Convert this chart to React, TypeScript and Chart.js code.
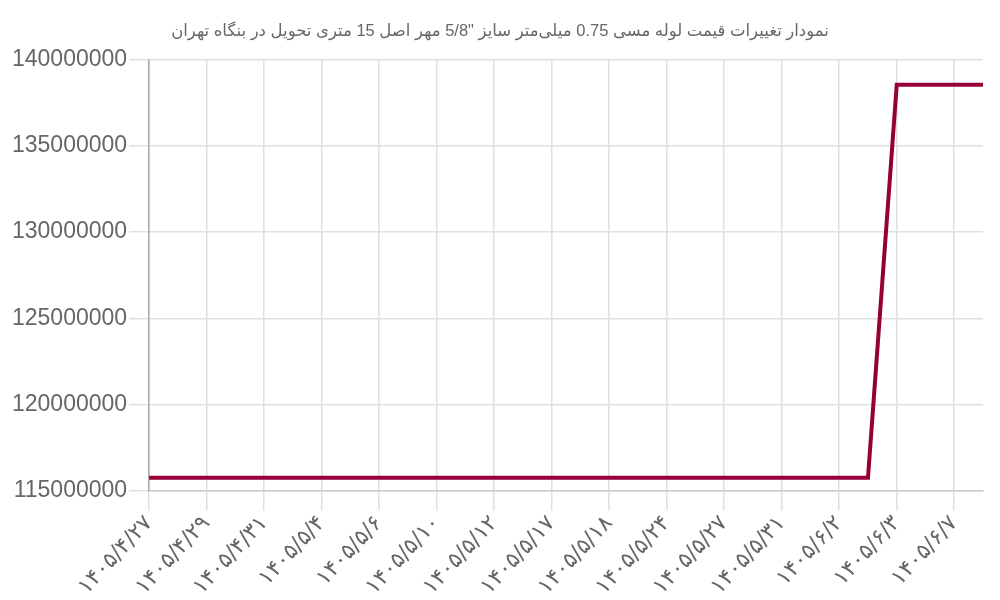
import { Chart, registerables } from 'chart.js';
import { useEffect, useRef } from 'react';

Chart.register(...registerables);

const TITLE = 'نمودار تغییرات قیمت لوله مسی 0.75 میلی‌متر سایز "5/8 مهر اصل 15 متری تحویل در بنگاه تهران';

const dates = [
  '۱۴۰۵/۴/۲۷', '۱۴۰۵/۴/۲۸', '۱۴۰۵/۴/۲۹', '۱۴۰۵/۴/۳۰', '۱۴۰۵/۴/۳۱',
  '۱۴۰۵/۵/۳', '۱۴۰۵/۵/۴', '۱۴۰۵/۵/۵', '۱۴۰۵/۵/۶', '۱۴۰۵/۵/۷',
  '۱۴۰۵/۵/۱۰', '۱۴۰۵/۵/۱۱', '۱۴۰۵/۵/۱۲', '۱۴۰۵/۵/۱۳', '۱۴۰۵/۵/۱۷',
  '۱۴۰۵/۵/۱۷', '۱۴۰۵/۵/۱۸', '۱۴۰۵/۵/۲۰', '۱۴۰۵/۵/۲۴', '۱۴۰۵/۵/۲۵',
  '۱۴۰۵/۵/۲۷', '۱۴۰۵/۵/۲۸', '۱۴۰۵/۵/۳۱', '۱۴۰۵/۶/۱', '۱۴۰۵/۶/۲',
  '۱۴۰۵/۶/۲', '۱۴۰۵/۶/۳', '۱۴۰۵/۶/۴', '۱۴۰۵/۶/۷', '۱۴۰۵/۶/۸',
];

const prices = [
  115750000, 115750000, 115750000, 115750000, 115750000,
  115750000, 115750000, 115750000, 115750000, 115750000,
  115750000, 115750000, 115750000, 115750000, 115750000,
  115750000, 115750000, 115750000, 115750000, 115750000,
  115750000, 115750000, 115750000, 115750000, 115750000,
  115750000, 138550000, 138550000, 138550000, 138550000,
];

const yMin = 115000000;
const yMax = 140000000;
const yStep = 5000000;

export default function App() {
  const chartRef = useRef<HTMLCanvasElement>(null);

  useEffect(() => {
    const ctx = chartRef.current?.getContext('2d');
    if (!ctx) return undefined;

    const shown = (i: number) => i % 2 === 0;

    const chart = new Chart(ctx, {
      type: 'line',
      data: {
        labels: dates,
        datasets: [
          {
            label: 'قیمت',
            data: prices,
            borderColor: '#96003a',
            backgroundColor: '#96003a',
            borderWidth: 4,
            pointRadius: 0,
            tension: 0,
          },
        ],
      },
      options: {
        responsive: false,
        animation: false,
        layout: { padding: { left: 10, right: 10, top: 4, bottom: 0 } },
        plugins: {
          legend: { display: false },
          tooltip: { enabled: false },
          title: {
            display: true,
            text: TITLE,
            color: '#666',
            font: { family: 'Arial, "DejaVu Sans", sans-serif', size: 16.5, weight: 'normal' },
            padding: { top: 18, bottom: 18 },
          },
        },
        scales: {
          x: {
            offset: false,
            afterFit: (s: any) => {
              s.paddingRight = 17;
            },
            grid: {
              color: (c: any) => (shown(c.index) ? '#e0e0e0' : 'rgba(0,0,0,0)'),
              tickColor: (c: any) => (shown(c.index) ? '#e0e0e0' : 'rgba(0,0,0,0)'),
              tickLength: 20,
              lineWidth: 1.5,
            },
            border: { color: '#cccccc', width: 1.5 },
            ticks: {
              autoSkip: false,
              minRotation: 47,
              maxRotation: 47,
              padding: 0,
              color: '#666',
              font: { family: '"DejaVu Sans", sans-serif', size: 22 },
              callback: (_v: any, i: number) => (shown(i) ? dates[i] : ''),
            },
          },
          y: {
            min: yMin,
            max: yMax,
            grid: { color: '#e0e0e0', tickLength: 20, lineWidth: 1.5 },
            border: { color: '#aaaaaa', width: 1.5 },
            ticks: {
              stepSize: yStep,
              padding: 2,
              color: '#666',
              font: { family: 'Arial, sans-serif', size: 23 },
              callback: (v: any) => String(v),
            },
          },
        },
      },
    });

    return () => {
      chart.destroy();
    };
  }, []);

  return (
    <div style={{ position: 'fixed', left: 0, top: 0, width: 1000, height: 600, background: '#fff' }}>
      <canvas ref={chartRef} width={1000} height={600}></canvas>
    </div>
  );
}
